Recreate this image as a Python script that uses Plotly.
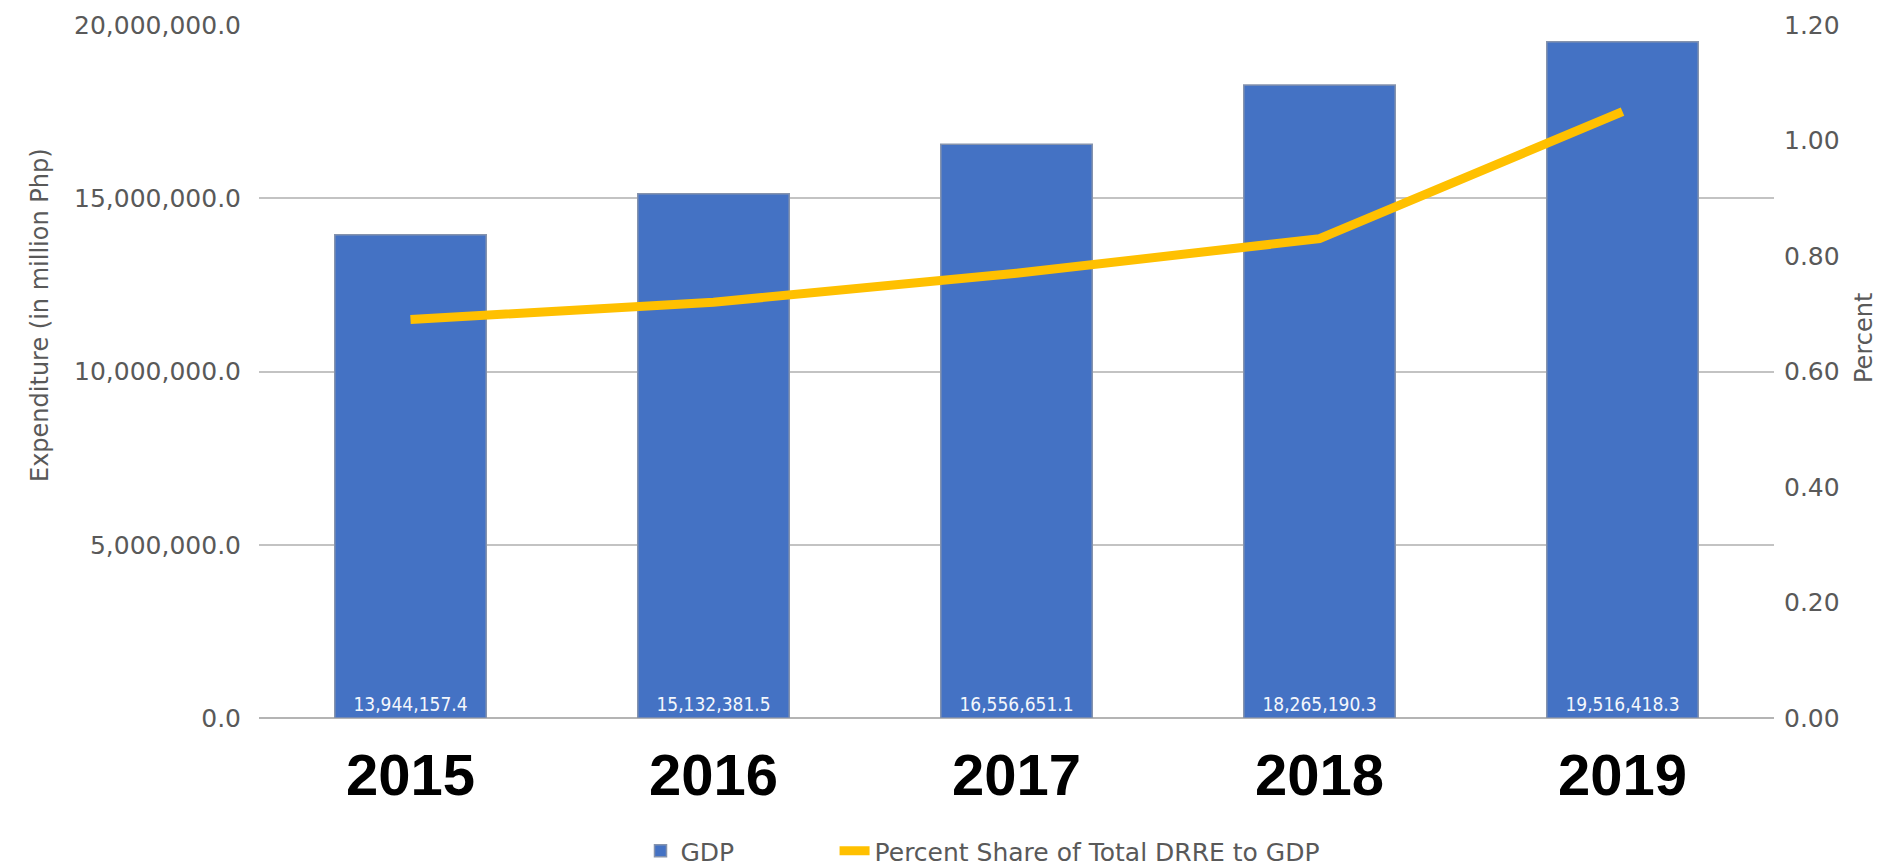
import plotly.graph_objects as go

years = ["2015", "2016", "2017", "2018", "2019"]
gdp = [13944157.4, 15132381.5, 16556651.1, 18265190.3, 19516418.3]
pct_share = [0.69, 0.72, 0.77, 0.83, 1.05]

gdp_labels = [f"{v:,.1f}" for v in gdp]

W, H = 1891, 865
L, R, T, B = 251, 125, 17, 155
pw, ph = W - L - R, H - T - B

NBSP = "\u00a0"

fig = go.Figure()
fig.add_trace(go.Bar(
    x=years, y=gdp, name="GDP" + NBSP * 12,
    marker=dict(color="#4472C4", line=dict(color="#8593ad", width=1.5)),
    text=gdp_labels, textposition="inside", insidetextanchor="start",
    textfont=dict(family="DejaVu Sans Condensed", size=19, color="#f4f7fc"),
    textangle=0, cliponaxis=False,
))
fig.add_trace(go.Scatter(
    x=years, y=pct_share, name="Percent Share of Total DRRE to GDP",
    yaxis="y2", mode="lines",
    line=dict(color="#FFC000", width=9),
))

grey = "#595959"
fig.update_layout(
    width=W, height=H,
    margin=dict(l=L, r=R, t=T, b=B, autoexpand=False),
    paper_bgcolor="white", plot_bgcolor="white",
    bargap=0.5,
    font=dict(family="DejaVu Sans", color=grey, size=24),
    xaxis=dict(
        type="category",
        tickfont=dict(family="Liberation Sans", size=58, color="black", weight="bold"),
        ticks="outside", ticklen=6, tickcolor="rgba(0,0,0,0)",
        showgrid=False, showline=False, zeroline=False,
    ),
    yaxis=dict(
        range=[0, 20000000], dtick=5000000, tickformat=",.1f",
        showgrid=True, gridcolor="#c3c3c3", gridwidth=2,
        zeroline=True, zerolinecolor="#b4b4b4", zerolinewidth=2,
        ticks="outside", ticklen=12, tickcolor="rgba(0,0,0,0)",
        tickfont=dict(family="DejaVu Sans", size=25, color=grey),
        showline=False,
    ),
    yaxis2=dict(
        range=[0, 1.2], dtick=0.2, tickformat=".2f",
        overlaying="y", side="right", showgrid=False, zeroline=False,
        ticks="outside", ticklen=4, tickcolor="rgba(0,0,0,0)",
        tickfont=dict(family="DejaVu Sans", size=25, color=grey),
        showline=False,
    ),
    legend=dict(
        orientation="h", x=(975 - L) / pw, xanchor="center",
        y=(710 - 843) / ph, yanchor="middle",
        font=dict(family="DejaVu Sans", size=25, color=grey),
        bgcolor="rgba(0,0,0,0)", itemwidth=30,
    ),
    showlegend=True,
    annotations=[
        dict(text="Expenditure (in million Php)", textangle=-90,
             xref="paper", yref="paper",
             x=(32 - L) / pw, y=(710 - 307) / ph,
             xanchor="center", yanchor="middle", showarrow=False,
             font=dict(family="DejaVu Sans", size=24, color=grey)),
        dict(text="Percent", textangle=-90,
             xref="paper", yref="paper",
             x=(1856 - L) / pw, y=(710 - 330) / ph,
             xanchor="center", yanchor="middle", showarrow=False,
             font=dict(family="DejaVu Sans", size=24, color=grey)),
    ],
)

fig.write_html("out.html")
